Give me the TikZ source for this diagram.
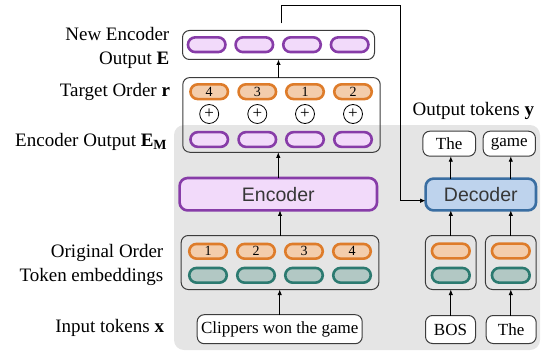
\documentclass[tikz,border=0pt]{standalone}
\usepackage{fontspec}
\setmainfont{Liberation Serif}
\setsansfont{Liberation Sans}
\usetikzlibrary{arrows.meta}
\definecolor{encfill}{RGB}{242,218,250}
\definecolor{encdraw}{RGB}{135,60,168}
\definecolor{ordfill}{RGB}{243,205,172}
\definecolor{orddraw}{RGB}{222,124,42}
\definecolor{tokfill}{RGB}{178,200,196}
\definecolor{tokdraw}{RGB}{44,122,112}
\definecolor{decfill}{RGB}{190,211,237}
\definecolor{decdraw}{RGB}{58,110,162}
\definecolor{panel}{RGB}{229,229,229}
\definecolor{edge}{RGB}{60,60,60}
\definecolor{modtext}{RGB}{55,55,55}
\begin{document}
\begin{tikzpicture}[x=1pt,y=-1pt,
  every node/.style={inner sep=0pt, outer sep=0pt},
  pill/.style={rounded corners=7.3pt, line width=2.6pt, minimum width=37.5pt, minimum height=14.7pt},
  encpill/.style={pill, draw=encdraw, fill=encfill},
  ordpill/.style={pill, draw=orddraw, fill=ordfill, font=\fontsize{14}{14}\selectfont},
  tokpill/.style={pill, draw=tokdraw, fill=tokfill},
  frame/.style={draw=edge, line width=1pt, rounded corners=7pt},
  wordbox/.style={frame, fill=white, font=\fontsize{17}{20}\selectfont},
  plusmark/.style={circle, draw=black, line width=0.8pt, minimum size=19pt, font=\fontsize{17}{17}\selectfont},
  module/.style={rounded corners=8pt, line width=2.6pt, font=\sffamily\fontsize{19.5}{20}\selectfont, text=modtext},
  lbl/.style={font=\fontsize{19}{23.6}\selectfont, anchor=base east},
  arr/.style={-{Latex[length=5.5pt,width=4.5pt]}, line width=0.9pt}]
\useasboundingbox (0,0) rectangle (543,353);

% shaded panel behind encoder / decoder
\fill[panel, rounded corners=10pt] (174,125) rectangle (540,350);

% ---------- encoder side ----------
\node[frame, fill=white, minimum width=192pt, minimum height=29pt] (newenc) at (278.5,45) {};
\node[frame, minimum width=197.4pt, minimum height=74.7pt] (tgt) at (281.5,114.9) {};
\node[module, draw=encdraw, fill=encfill, minimum width=197.4pt, minimum height=32.4pt] (enc) at (278.3,194.2) {Encoder};
\node[frame, minimum width=197.6pt, minimum height=54pt] (emb) at (280,262.5) {};
\node[wordbox, minimum width=165pt, minimum height=29pt] (clip) at (279.7,329.2) {Clippers won the game};

\foreach \i/\x in {1/206.7,2/254.3,3/302,4/349.7}
  \node[encpill] (ne\i) at (\x,44.7) {};
\foreach \i/\x/\n in {1/209.2/4,2/257.3/3,3/305/1,4/353/2}{
  \node[ordpill] (ro\i) at (\x,91.7) {\n};
  \node[plusmark] (pl\i) at (\x,114) {+};
  \node[encpill] (em\i) at (\x,139.5) {};
}
\foreach \i/\x in {1/208,2/256,3/304,4/352}{
  \node[ordpill] (oo\i) at (\x,251.3) {\i};
  \node[tokpill] (te\i) at (\x,275.3) {};
}

\draw[arr] (clip.north) -- (clip.north |- emb.south);
\draw[arr] (emb.north) -- (emb.north |- enc.south);
\draw[arr] (enc.north) -- (enc.north |- tgt.south);
\draw[arr] (newenc.south |- tgt.north) -- (newenc.south);

% ---------- decoder side ----------
\node[wordbox, minimum width=52.7pt, minimum height=25pt] (yThe) at (449.2,143.7) {The};
\node[wordbox, minimum width=52.3pt, minimum height=25pt] (yGame) at (509.3,143.7) {game};
\node[module, draw=decdraw, fill=decfill, minimum width=110.4pt, minimum height=31.8pt] (dec) at (480.8,194.5) {Decoder};
\node[frame, minimum width=50.7pt, minimum height=54pt] (demb1) at (450.8,262.5) {};
\node[frame, minimum width=50.7pt, minimum height=54pt] (demb2) at (510.8,262.5) {};
\foreach \i/\x in {1/450.8,2/510.8}{
  \node[pill, draw=orddraw, fill=ordfill, minimum width=37.7pt] (do\i) at (\x,251) {};
  \node[pill, draw=tokdraw, fill=tokfill, minimum width=37.7pt] (dt\i) at (\x,275.3) {};
}
\node[wordbox, minimum width=50pt, minimum height=28pt] (bos) at (450.5,329.5) {BOS};
\node[wordbox, minimum width=50pt, minimum height=28pt] (xThe) at (511.2,329.5) {The};

\draw[arr] (demb1.north |- bos.north) -- (demb1.south);
\draw[arr] (demb2.north |- xThe.north) -- (demb2.south);
\draw[arr] (demb1.north) -- (demb1.north |- dec.south);
\draw[arr] (demb2.north) -- (demb2.north |- dec.south);
\draw[arr] (demb1.north |- dec.north) -- (demb1.north |- yThe.south);
\draw[arr] (demb2.north |- dec.north) -- (demb2.north |- yGame.south);

% encoder output routed back into the decoder
\coordinate (fbstart) at (281,23.3);
\coordinate (fbturn) at (400,5.7);
\draw[arr] (fbstart) |- (fbturn) |- ([yshift=-6.2pt]dec.west);

% ---------- labels ----------
\node[font=\fontsize{19}{23.6}\selectfont, align=right, anchor=east] (lnew) at (169.3,48) {New Encoder\\Output \textbf{E}};
\node[lbl] (ltgt) at (170,96) {Target Order \textbf{r}};
\node[lbl] (lem) at (166.7,146) {Encoder Output \textbf{E}\raisebox{-3.3pt}{\fontsize{14}{14}\selectfont\textbf{M}}};
\node[font=\fontsize{19}{23.6}\selectfont, align=right, anchor=east] (lorig) at (163.3,264.7) {Original Order\\Token embeddings};
\node[lbl] (lin) at (164,332.7) {Input tokens \textbf{x}};
\node[lbl] (lout) at (534,115) {Output tokens \textbf{y}};
\end{tikzpicture}
\end{document}
